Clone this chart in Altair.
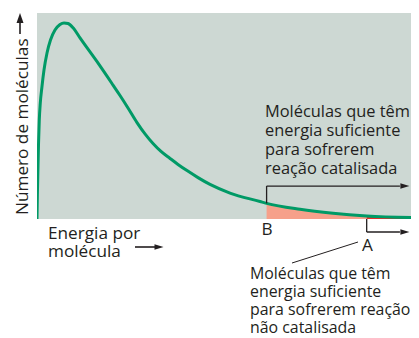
import altair as alt
import pandas as pd

# Distribution curve
# energy per molecule (arbitrary units), number of molecules (arbitrary units 0-100)
energy = [0, 0.10, 0.24, 0.39, 0.60, 0.86, 1.26, 1.83, 2.62, 3.53, 4.71, 6.02, 7.07,
          8.12, 9.50, 11.26, 15.63, 19.90, 21.73, 23.82, 26.18, 28.27, 30.37, 32.46,
          34.82, 36.91, 39.27, 42.15, 45.29, 50.52, 58.38, 60.1, 68.85, 77.49, 86.3, 100]
molecules = [0, 11.65, 23.8, 35.9, 48.1, 56.3, 63.6, 72.3, 80.6, 86.9, 91.7, 94.4, 95.2,
             94.9, 92.7, 87.9, 76.6, 65.0, 59.95, 53.9, 46.8, 41.3, 36.65, 32.8,
             29.4, 26.5, 23.5, 20.1, 16.8, 12.6, 8.5, 7.6, 4.7, 2.8, 1.5, 0.6]

energy_B = 60.1   # activation energy, catalysed reaction
energy_A = 86.3   # activation energy, uncatalysed reaction
level_B = 7.6     # curve height at B
arrow_level_B = 16.0
arrow_level_A = -6.3
arrow_end = 95.0
head_pos = 96.3
x_max = 97.9

y_title = "Número de moléculas"
x_title = ["Energia por", "molécula"]
label_cat = ["Moléculas que têm", "energia suficiente", "para sofrerem", "reação catalisada"]
label_uncat = ["Moléculas que têm", "energia suficiente", "para sofrerem reação", "não catalisada"]
label_B = "B"
label_A = "A"

W, H = 374, 206
FONT = "Open Sans"
FS_LEFT = 17.2
FS_RIGHT = 16.4
FS_LOW = 15.9
INK = "#231F20"

curve = pd.DataFrame({"e": energy, "n": molecules})
xs = alt.Scale(domain=[0, x_max], nice=False, zero=False)
ys = alt.Scale(domain=[0, 100], nice=False, zero=False)

base = alt.Chart(curve).encode(
    x=alt.X("e:Q", scale=xs, axis=None),
    y=alt.Y("n:Q", scale=ys, axis=None),
)
cat_area = base.transform_filter(
    (alt.datum.e >= energy_B) & (alt.datum.e <= energy_A)
).mark_area(color="#F6A08A", interpolate="monotone", clip=True)
uncat_area = base.transform_filter(alt.datum.e >= energy_A).mark_area(
    color="#E5302A", interpolate="monotone", clip=True)
line = base.mark_line(color="#009A66", strokeWidth=3, interpolate="monotone", clip=True)

segs = pd.DataFrame({
    "x": [energy_B, energy_B, energy_A, energy_A],
    "y": [level_B, arrow_level_B, 0, arrow_level_A],
    "x2": [energy_B, arrow_end, energy_A, arrow_end],
    "y2": [arrow_level_B, arrow_level_B, arrow_level_A, arrow_level_A],
})
seg_rules = alt.Chart(segs).mark_rule(color=INK, strokeWidth=1.3).encode(
    x=alt.X("x:Q", scale=xs), y=alt.Y("y:Q", scale=ys),
    x2="x2:Q", y2="y2:Q")

heads = pd.DataFrame({"x": [head_pos, head_pos], "y": [arrow_level_B, arrow_level_A]})
RIGHT = "M-1,-0.62L1,0L-1,0.62Z"
UP = "M-0.7,1L0,-1L0.7,1Z"
head_marks = alt.Chart(heads).mark_point(
    shape=RIGHT, size=81, filled=True, color=INK, opacity=1, strokeWidth=0
).encode(x=alt.X("x:Q", scale=xs), y=alt.Y("y:Q", scale=ys))

one = pd.DataFrame({"k": [0]})
dummy = alt.Chart(one)

# axis-title arrows and pointer line (pixel positions in the view)
y_shaft = dummy.mark_rule(color=INK, strokeWidth=1.6).encode(
    x=alt.value(-17), y=alt.value(21), y2=alt.value(9))
y_head = dummy.mark_point(shape=UP, size=100, filled=True, color=INK, opacity=1,
                          strokeWidth=0).encode(x=alt.value(-17), y=alt.value(5))
x_shaft = dummy.mark_rule(color=INK, strokeWidth=1.6).encode(
    x=alt.value(98), x2=alt.value(120), y=alt.value(234))
x_head = dummy.mark_point(shape=RIGHT, size=81, filled=True, color=INK, opacity=1,
                          strokeWidth=0).encode(x=alt.value(122), y=alt.value(234))
pointer = dummy.mark_rule(color=INK, strokeWidth=1).encode(
    x=alt.value(321), y=alt.value(229), x2=alt.value(255), y2=alt.value(250))

def txt(text, x, y, fs, align="left", angle=0, lh=18.5):
    return dummy.mark_text(
        text=text, font=FONT, fontSize=fs, color=INK, align=align,
        baseline="alphabetic", angle=angle, lineHeight=lh
    ).encode(x=alt.value(x), y=alt.value(y))

t_y = txt(y_title, -9, 202, FS_LEFT, angle=270)
t_x = txt(x_title, 11, 226, FS_LEFT, lh=18)
t_cat = txt(label_cat, 228, 103.5, FS_RIGHT, lh=19)
t_uncat = txt(label_uncat, 213, 266, FS_LOW, lh=18)
t_B = txt(label_B, 230, 222, FS_LEFT, align="center")
t_A = txt(label_A, 330.5, 238, FS_LEFT, align="center")

chart = alt.layer(
    cat_area, uncat_area, line, seg_rules, head_marks,
    y_shaft, y_head, x_shaft, x_head, pointer,
    t_y, t_x, t_cat, t_uncat, t_B, t_A,
).properties(
    width=W, height=H,
    autosize=alt.AutoSizeParams(type="none"),
    padding={"left": 29, "top": 5, "right": 0, "bottom": 120},
    background="white",
).configure_view(fill="#CDD8D3", stroke=None)

chart.save("out.html", embed_options={"renderer": "svg", "actions": False})
